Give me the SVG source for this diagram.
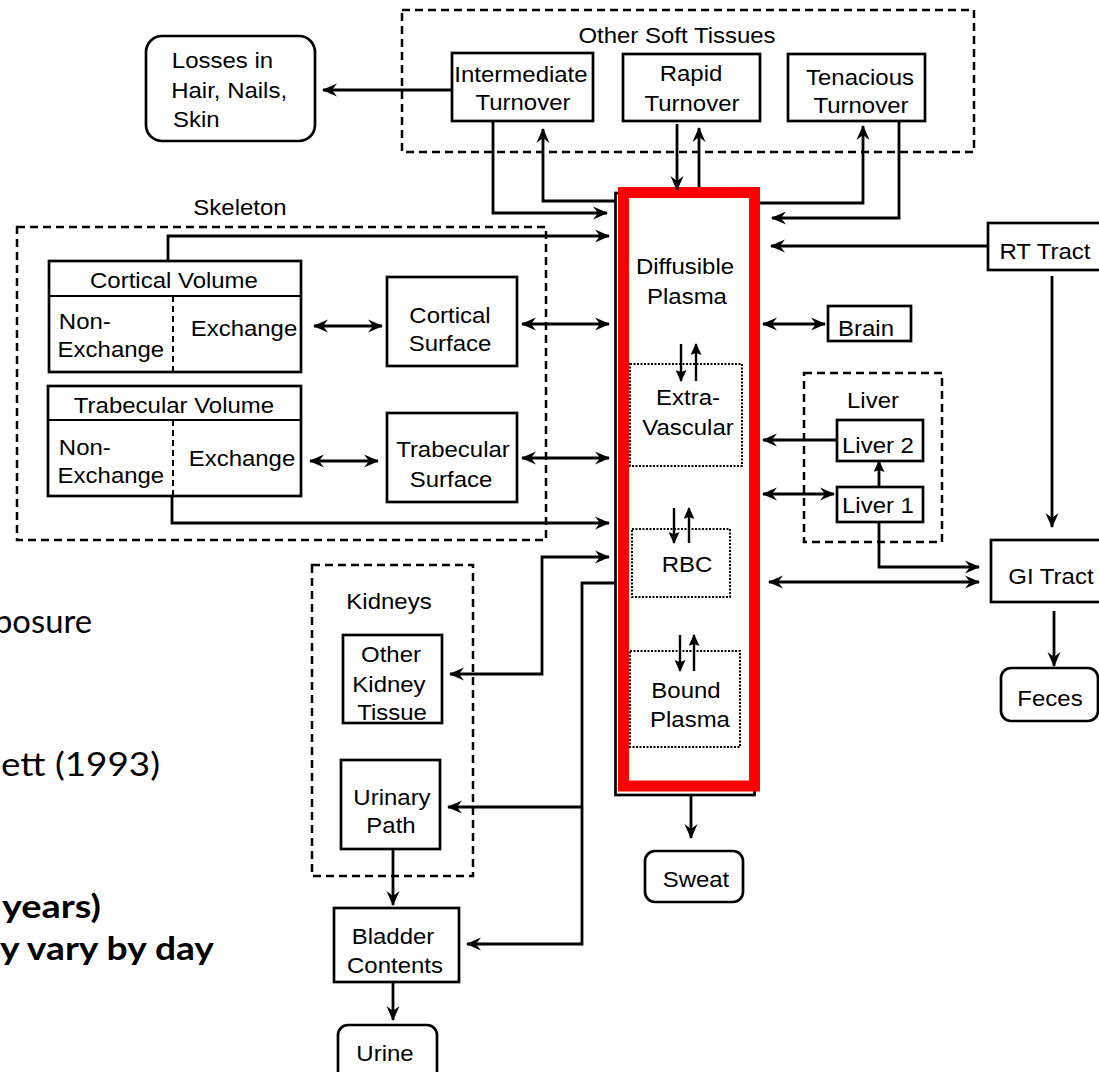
<svg xmlns="http://www.w3.org/2000/svg" width="1099" height="1072" viewBox="0 0 1099 1072">
<style>
text{font-family:"Liberation Sans",Arial,sans-serif;font-size:22px;fill:#000;transform-box:fill-box;transform-origin:center;transform:scaleX(1.09)}
text.m{text-anchor:middle}
text.bg{font-family:Lato,"Open Sans",sans-serif;font-size:32px;transform:none}
text.b{font-weight:bold}
.box{fill:#fff;stroke:#000;stroke-width:2.7}
.dash{fill:none;stroke:#000;stroke-width:2.5;stroke-dasharray:8 5}
.dot{fill:none;stroke:#000;stroke-width:2;stroke-dasharray:2 1.5}
.thin{fill:none;stroke:#000;stroke-width:2}
.idash{fill:none;stroke:#000;stroke-width:2;stroke-dasharray:6 4}
#connectors path{fill:none;stroke:#000;stroke-width:2.8}
#connectors path.s{stroke-width:2.4}
</style>
<defs>
<marker id="ah" viewBox="0 0 15 14" refX="14" refY="7" markerWidth="15" markerHeight="14" markerUnits="userSpaceOnUse" orient="auto-start-reverse"><path d="M0,0.5 L15,7 L0,13.5 L5,7 z" fill="#000"/></marker>
<marker id="ahs" viewBox="0 0 12 11" refX="11" refY="5.5" markerWidth="12" markerHeight="11" markerUnits="userSpaceOnUse" orient="auto-start-reverse"><path d="M0,0 L12,5.5 L0,11 L2,5.5 z" fill="#000"/></marker>
</defs>
<rect width="1099" height="1072" fill="#fff"/>

<g id="background-text">
<text class="bg" x="92" y="633" text-anchor="end" textLength="98" lengthAdjust="spacingAndGlyphs">posure</text>
<text class="bg" x="1" y="776" textLength="159" lengthAdjust="spacingAndGlyphs">ett (1993)</text>
<text class="bg b" x="2" y="918" textLength="99" lengthAdjust="spacingAndGlyphs">years)</text>
<text class="bg b" x="0" y="960" textLength="214" lengthAdjust="spacingAndGlyphs">y vary by day</text>
</g>

<g id="other-soft-tissues">
<rect class="dash" x="402" y="10" width="572" height="142"/>
<text class="m" x="677" y="43">Other Soft Tissues</text>
</g>
<g id="skeleton">
<rect class="dash" x="17" y="227" width="529" height="313"/>
<text class="m" x="240" y="215">Skeleton</text>
</g>
<g id="liver">
<rect class="dash" x="804" y="373" width="138" height="169"/>
<text class="m" x="873" y="408">Liver</text>
</g>
<g id="kidneys">
<rect class="dash" x="312" y="565" width="161" height="311"/>
<text class="m" x="389" y="609">Kidneys</text>
</g>

<g id="losses">
<rect class="box" x="146" y="36" width="169" height="105" rx="16"/>
<text x="176" y="68">Losses in</text>
<text x="176" y="98">Hair, Nails,</text>
<text x="175" y="127">Skin</text>
</g>
<g id="intermediate">
<rect class="box" x="452" y="53" width="141" height="68"/>
<text class="m" x="521" y="82">Intermediate</text>
<text class="m" x="523" y="110">Turnover</text>
</g>
<g id="rapid">
<rect class="box" x="623" y="54" width="137" height="67"/>
<text class="m" x="691" y="81">Rapid</text>
<text class="m" x="692" y="111">Turnover</text>
</g>
<g id="tenacious">
<rect class="box" x="788" y="54" width="137" height="67"/>
<text class="m" x="860" y="85">Tenacious</text>
<text class="m" x="861" y="113">Turnover</text>
</g>

<g id="cortical-volume">
<rect class="box" x="49" y="261" width="252" height="111"/>
<line class="thin" x1="49" y1="296" x2="301" y2="296" stroke-width="2.7"/>
<line class="idash" x1="173" y1="296" x2="173" y2="372"/>
<text class="m" x="174" y="288">Cortical Volume</text>
<text x="61" y="329">Non-</text>
<text x="62" y="357">Exchange</text>
<text class="m" x="244" y="336">Exchange</text>
</g>
<g id="trabecular-volume">
<rect class="box" x="48" y="386" width="253" height="110"/>
<line class="thin" x1="48" y1="420" x2="301" y2="420" stroke-width="2.7"/>
<line class="idash" x1="173" y1="420" x2="173" y2="496"/>
<text class="m" x="174" y="413">Trabecular Volume</text>
<text x="61" y="455">Non-</text>
<text x="62" y="483">Exchange</text>
<text class="m" x="242" y="466">Exchange</text>
</g>
<g id="cortical-surface">
<rect class="box" x="387" y="277" width="130" height="89"/>
<text class="m" x="450" y="323">Cortical</text>
<text class="m" x="450" y="351">Surface</text>
</g>
<g id="trabecular-surface">
<rect class="box" x="387" y="413" width="130" height="89"/>
<text class="m" x="453" y="457">Trabecular</text>
<text class="m" x="451" y="487">Surface</text>
</g>

<g id="plasma">
<rect x="615.5" y="193" width="139" height="602" fill="#fff" stroke="#000" stroke-width="2.7"/>
<rect x="623.5" y="192.5" width="131" height="593.5" fill="none" stroke="#ff0000" stroke-width="11"/>
<text class="m" x="685" y="274">Diffusible</text>
<text class="m" x="687" y="304">Plasma</text>
</g>
<g id="extra-vascular">
<rect class="dot" x="630" y="364" width="112" height="102"/>
<text class="m" x="688" y="405">Extra-</text>
<text class="m" x="688" y="435">Vascular</text>
</g>
<g id="rbc">
<rect class="dot" x="632" y="529" width="98" height="68"/>
<text class="m" x="687" y="572">RBC</text>
</g>
<g id="bound-plasma">
<rect class="dot" x="630" y="651" width="110" height="96"/>
<text class="m" x="686" y="698">Bound</text>
<text class="m" x="690" y="727">Plasma</text>
</g>

<g id="brain">
<rect class="box" x="828" y="306" width="83" height="35"/>
<text class="m" x="866" y="336">Brain</text>
</g>
<g id="rt-tract">
<rect class="box" x="988" y="223" width="125" height="47"/>
<text class="m" x="1045" y="259">RT Tract</text>
</g>
<g id="liver-2">
<rect class="box" x="837" y="420" width="86" height="41"/>
<text class="m" x="878" y="453">Liver 2</text>
</g>
<g id="liver-1">
<rect class="box" x="837" y="487" width="86" height="35"/>
<text class="m" x="878" y="513">Liver 1</text>
</g>
<g id="gi-tract">
<rect class="box" x="991" y="540" width="125" height="62"/>
<text class="m" x="1051" y="584">GI Tract</text>
</g>
<g id="feces">
<rect class="box" x="1001" y="668" width="97" height="53" rx="10"/>
<text class="m" x="1050" y="706">Feces</text>
</g>
<g id="sweat">
<rect class="box" x="645" y="851" width="98" height="51" rx="10"/>
<text class="m" x="696" y="887">Sweat</text>
</g>
<g id="other-kidney-tissue">
<rect class="box" x="343" y="635" width="99" height="88"/>
<text class="m" x="391" y="662">Other</text>
<text class="m" x="389" y="692">Kidney</text>
<text class="m" x="392" y="720">Tissue</text>
</g>
<g id="urinary-path">
<rect class="box" x="341" y="760" width="99" height="89"/>
<text class="m" x="392" y="805">Urinary</text>
<text class="m" x="391" y="833">Path</text>
</g>
<g id="bladder">
<rect class="box" x="334" y="908" width="125" height="74"/>
<text class="m" x="393" y="944">Bladder</text>
<text class="m" x="395" y="973">Contents</text>
</g>
<g id="urine">
<rect class="box" x="338" y="1025" width="99" height="60" rx="10"/>
<text class="m" x="385" y="1061">Urine</text>
</g>

<g id="connectors">
<path d="M452,90 H323" marker-end="url(#ah)"/>
<path d="M493,121 V213 H607" marker-end="url(#ah)"/>
<path d="M615,201 H543 V129" marker-end="url(#ah)"/>
<path d="M677,124 V190" marker-end="url(#ah)"/>
<path d="M699,187 V128" marker-end="url(#ah)"/>
<path d="M760,203 H863 V126" marker-end="url(#ah)"/>
<path d="M899,122 V218 H772" marker-end="url(#ah)"/>
<path d="M988,246 H771" marker-end="url(#ah)"/>
<path d="M1052,276 V527" marker-end="url(#ah)"/>
<path d="M168,261 V236 H609" marker-end="url(#ah)"/>
<path d="M314,326 H382" marker-start="url(#ah)" marker-end="url(#ah)"/>
<path d="M522,324 H609" marker-start="url(#ah)" marker-end="url(#ah)"/>
<path d="M310,461 H378" marker-start="url(#ah)" marker-end="url(#ah)"/>
<path d="M522,458 H609" marker-start="url(#ah)" marker-end="url(#ah)"/>
<path d="M172,496 V523 H609" marker-end="url(#ah)"/>
<path d="M763,324 H825" marker-start="url(#ah)" marker-end="url(#ah)"/>
<path d="M837,440 H763" marker-end="url(#ah)"/>
<path d="M763,494 H834" marker-start="url(#ah)" marker-end="url(#ah)"/>
<path d="M879,487 V461" marker-end="url(#ahs)"/>
<path d="M879,522 V567 H979" marker-end="url(#ah)"/>
<path d="M769,582 H979" marker-start="url(#ah)" marker-end="url(#ah)"/>
<path d="M1054,611 V666" marker-end="url(#ah)"/>
<path d="M609,557 H542 V674 H450" marker-start="url(#ah)" marker-end="url(#ah)"/>
<path d="M614,583 H582 V944 H467" marker-end="url(#ah)"/>
<path d="M582,807 H448" marker-end="url(#ah)"/>
<path d="M393,849 V905" marker-end="url(#ah)"/>
<path d="M393,982 V1020" marker-end="url(#ah)"/>
<path d="M691,795 V838" marker-end="url(#ah)"/>
<path class="s" d="M681,344 V381" marker-end="url(#ahs)"/>
<path class="s" d="M696,381 V344" marker-end="url(#ahs)"/>
<path class="s" d="M674,508 V543" marker-end="url(#ahs)"/>
<path class="s" d="M689,543 V508" marker-end="url(#ahs)"/>
<path class="s" d="M680,635 V671" marker-end="url(#ahs)"/>
<path class="s" d="M694,671 V635" marker-end="url(#ahs)"/>
</g>
</svg>
